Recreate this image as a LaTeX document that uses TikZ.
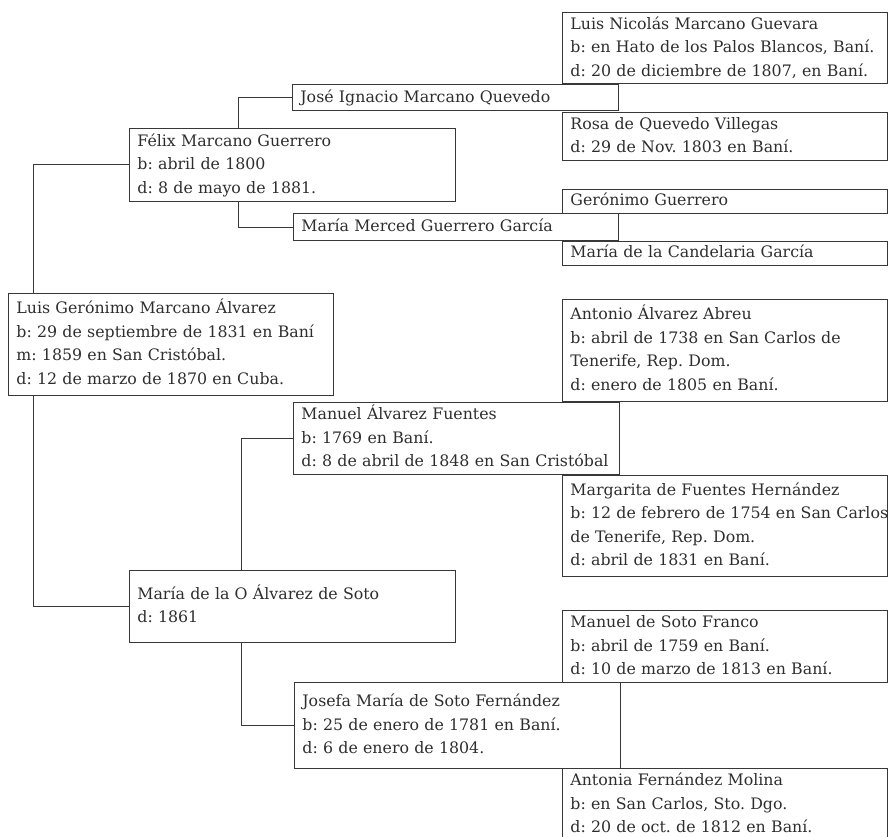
\documentclass[tikz,border=0pt]{standalone}
\usepackage{fontspec}
\setmainfont{DejaVu Serif}
\newcommand\pcard[1]{\begin{tabular}{@{}l@{}}#1\end{tabular}}
\begin{document}
\frenchspacing
\begin{tikzpicture}[x=1pt,y=-1pt,
  person/.style={draw=black!78, line width=0.8pt, rectangle, anchor=north west, align=left,
    inner xsep=8pt, inner ysep=0pt, text=black!82,
    font=\fontsize{15.8}{23.5}\selectfont},
  link/.style={draw=black!78, line width=0.8pt}]
\useasboundingbox (0,0) rectangle (888,837);
\clip (0,0) rectangle (888,837);
% generation 1
\node[person, text width=309pt, minimum width=325pt, minimum height=102pt] (luis) at (8,293)
  {\pcard{Luis Gerónimo Marcano Álvarez\\b: 29 de septiembre de 1831 en Baní\\m: 1859 en San Cristóbal.\\d: 12 de marzo de 1870 en Cuba.}};
% generation 2
\node[person, text width=310pt, minimum width=326pt, minimum height=73pt] (felix) at (129,128)
  {\pcard{Félix Marcano Guerrero\\b: abril de 1800\\d: 8 de mayo de 1881.}};
\node[person, text width=310pt, minimum width=326pt, minimum height=72pt] (mariaO) at (129,570)
  {\pcard{María de la O Álvarez de Soto\\d: 1861}};
% generation 3
\node[person, text width=310pt, minimum width=326pt, minimum height=26pt] (jose) at (292,84)
  {\pcard{José Ignacio Marcano Quevedo}};
\node[person, text width=309pt, minimum width=325pt, minimum height=27pt] (merced) at (293,213)
  {\pcard{María Merced Guerrero García}};
\node[person, text width=310pt, minimum width=326pt, minimum height=72pt] (manuelA) at (293,402)
  {\pcard{Manuel Álvarez Fuentes\\b: 1769 en Baní.\\d: 8 de abril de 1848 en San Cristóbal}};
\node[person, text width=310pt, minimum width=326pt, minimum height=86pt] (josefa) at (294,682)
  {\pcard{Josefa María de Soto Fernández\\b: 25 de enero de 1781 en Baní.\\d: 6 de enero de 1804.}};
% generation 4
\node[person, text width=309pt, minimum width=325pt, minimum height=71pt] (luisN) at (562,12)
  {\pcard{Luis Nicolás Marcano Guevara\\b: en Hato de los Palos Blancos, Baní.\\d: 20 de diciembre de 1807, en Baní.}};
\node[person, text width=309pt, minimum width=325pt, minimum height=48pt] (rosa) at (562,112)
  {\pcard{Rosa de Quevedo Villegas\\d: 29 de Nov. 1803 en Baní.}};
\node[person, text width=309pt, minimum width=325pt, minimum height=23pt] (geronimo) at (562,189)
  {\pcard{Gerónimo Guerrero}};
\node[person, text width=309pt, minimum width=325pt, minimum height=23pt] (candelaria) at (562,241)
  {\pcard{María de la Candelaria García}};
\node[person, text width=309pt, minimum width=325pt, minimum height=102pt] (antonio) at (562,299)
  {\pcard{Antonio Álvarez Abreu\\b: abril de 1738 en San Carlos de\\Tenerife, Rep. Dom.\\d: enero de 1805 en Baní.}};
\node[person, text width=309pt, minimum width=325pt, minimum height=101pt] (margarita) at (562,475)
  {\pcard{Margarita de Fuentes Hernández\\b: 12 de febrero de 1754 en San Carlos\\de Tenerife, Rep. Dom.\\d: abril de 1831 en Baní.}};
\node[person, text width=309pt, minimum width=325pt, minimum height=72pt] (manuelS) at (562,610)
  {\pcard{Manuel de Soto Franco\\b: abril de 1759 en Baní.\\d: 10 de marzo de 1813 en Baní.}};
\node[person, text width=309pt, minimum width=325pt, minimum height=72pt] (antonia) at (562,768)
  {\pcard{Antonia Fernández Molina\\b: en San Carlos, Sto. Dgo.\\d: 20 de oct. de 1812 en Baní.}};
% connectors
\draw[link] ([xshift=25pt]luis.north west) |- (felix.west);
\draw[link] ([xshift=25pt]luis.south west) |- (mariaO.west);
\draw[link] ([xshift=109pt]felix.north west) |- (jose.west);
\draw[link] ([xshift=109pt]felix.south west) |- (merced.west);
\draw[link] ([xshift=112pt]mariaO.north west) |- (manuelA.west);
\draw[link] ([xshift=112pt]mariaO.south west) |- (josefa.west);
\end{tikzpicture}
\end{document}
